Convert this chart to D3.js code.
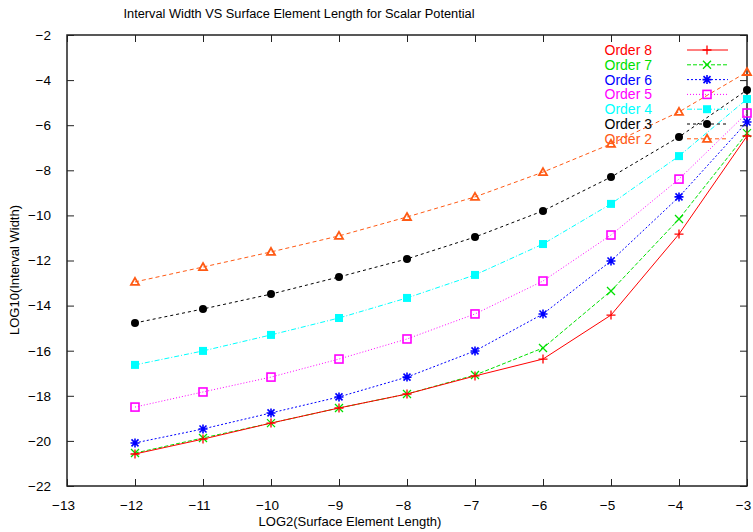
<!DOCTYPE html>
<html><head><meta charset="utf-8">
<script src="https://cdn.jsdelivr.net/npm/d3@7"></script>
<style>
body{margin:0;background:#fff;}
text{font-family:"Liberation Sans",Arial,sans-serif;}
</style></head>
<body><svg id="c" width="753" height="532"></svg>
<script>
const xValues = [-12,-11,-10,-9,-8,-7,-6,-5,-4,-3];
const seriesNames = ["Order 8","Order 7","Order 6","Order 5","Order 4","Order 3","Order 2"];
const order8 = [-20.58,-19.92,-19.21,-18.54,-17.92,-17.12,-16.37,-14.42,-10.83,-6.48];
const order7 = [-20.54,-19.87,-19.21,-18.54,-17.92,-17.08,-15.88,-13.35,-10.16,-6.35];
const order6 = [-20.09,-19.47,-18.76,-18.05,-17.17,-16.01,-14.37,-12.02,-9.18,-5.86];
const order5 = [-18.50,-17.83,-17.17,-16.37,-15.48,-14.37,-12.91,-10.87,-8.39,-5.46];
const order4 = [-16.63,-16.01,-15.30,-14.55,-13.66,-12.64,-11.27,-9.49,-7.37,-4.84];
const order3 = [-14.77,-14.15,-13.49,-12.73,-11.93,-10.96,-9.80,-8.30,-6.52,-4.44];
const order2 = [-12.95,-12.29,-11.62,-10.91,-10.07,-9.18,-8.08,-6.83,-5.41,-3.64];
const xTicks = [-13,-12,-11,-10,-9,-8,-7,-6,-5,-4,-3];
const yTicks = [-22,-20,-18,-16,-14,-12,-10,-8,-6,-4,-2];

const styles = [
  {color:"#ff0000", dash:null, marker:"plus"},
  {color:"#00e000", dash:"4,2", marker:"cross"},
  {color:"#0000ff", dash:"2,2", marker:"star"},
  {color:"#ff00ff", dash:"1,2", marker:"osquare"},
  {color:"#00ffff", dash:"5,2,1,2", marker:"fsquare"},
  {color:"#000000", dash:"3,3", marker:"circle"},
  {color:"#ff5a14", dash:"4,3", marker:"otri"}
];
const allSeries = [order8,order7,order6,order5,order4,order3,order2];

const svg = d3.select("#c");
const L=67, R=747, T=35, B=486;
const x = d3.scaleLinear().domain([-13,-3]).range([L,R]);
const y = d3.scaleLinear().domain([-22,-2]).range([B,T]);

// title
svg.append("text").attr("x",299).attr("y",18).attr("text-anchor","middle")
  .attr("font-size",12.5).attr("textLength",351).attr("lengthAdjust","spacingAndGlyphs")
  .text("Interval Width VS Surface Element Length for Scalar Potential");

// axes with inward ticks (bottom/top/left/right)
const tickLen = 7;
const g = svg.append("g");
g.append("g").attr("transform",`translate(0,${B})`)
  .call(d3.axisBottom(x).tickValues(xTicks).tickSizeInner(-tickLen).tickSizeOuter(0).tickPadding(10).tickFormat(d3.format("d")))
  .call(a=>{a.select(".domain").remove(); a.selectAll("text").attr("dy","1.0em").attr("dx",-4).attr("font-size",13.5).attr("font-family","Liberation Sans, Arial, sans-serif");});
g.append("g").attr("transform",`translate(0,${T})`)
  .call(d3.axisTop(x).tickValues(xTicks).tickSizeInner(-tickLen).tickSizeOuter(0).tickFormat(""))
  .call(a=>a.select(".domain").remove());
g.append("g").attr("transform",`translate(${L},0)`)
  .call(d3.axisLeft(y).tickValues(yTicks).tickSizeInner(-tickLen).tickSizeOuter(0).tickPadding(16).tickFormat(d3.format("d")))
  .call(a=>{a.select(".domain").remove(); a.selectAll("text").attr("font-size",13.5).attr("font-family","Liberation Sans, Arial, sans-serif");});
g.append("g").attr("transform",`translate(${R},0)`)
  .call(d3.axisRight(y).tickValues(yTicks).tickSizeInner(-tickLen).tickSizeOuter(0).tickFormat(""))
  .call(a=>a.select(".domain").remove());
g.selectAll(".tick line").attr("stroke","#222").attr("stroke-width",1);
g.selectAll(".tick text").attr("fill","#000");

svg.append("rect").attr("x",L).attr("y",T).attr("width",R-L).attr("height",B-T)
  .attr("fill","none").attr("stroke","#222").attr("stroke-width",1.5);

// axis labels
svg.append("text").attr("x",350).attr("y",526).attr("text-anchor","middle").attr("font-size",13)
  .text("LOG2(Surface Element Length)");
svg.append("text").attr("transform","translate(19,270) rotate(-90)").attr("text-anchor","middle").attr("font-size",13)
  .text("LOG10(Interval Width)");

function drawMarker(sel, type, color){
  const s = 4.5;
  if(type==="plus"){
    sel.append("path").attr("d",`M${-s},0H${s}M0,${-s}V${s}`).attr("stroke",color).attr("stroke-width",1.3).attr("fill","none");
  } else if(type==="cross"){
    const c=4;
    sel.append("path").attr("d",`M${-c},${-c}L${c},${c}M${-c},${c}L${c},${-c}`).attr("stroke",color).attr("stroke-width",1.3).attr("fill","none");
  } else if(type==="star"){
    const c=3.5;
    sel.append("path").attr("d",`M${-s},0H${s}M0,${-s}V${s}M${-c},${-c}L${c},${c}M${-c},${c}L${c},${-c}`).attr("stroke",color).attr("stroke-width",1.6).attr("fill","none");
  } else if(type==="osquare"){
    sel.append("rect").attr("x",-4).attr("y",-4).attr("width",8).attr("height",8).attr("fill","none").attr("stroke",color).attr("stroke-width",1.6);
  } else if(type==="fsquare"){
    sel.append("rect").attr("x",-4).attr("y",-4).attr("width",8).attr("height",8).attr("fill",color);
  } else if(type==="circle"){
    sel.append("circle").attr("r",4).attr("fill",color);
  } else if(type==="otri"){
    sel.append("path").attr("d","M0,-4L4,3L-4,3Z").attr("fill","none").attr("stroke",color).attr("stroke-width",1.8);
  }
}

const line = d3.line().x(d=>x(d[0])).y(d=>y(d[1]));
// draw in reverse so Order 8 ends up on top
for(let i=allSeries.length-1;i>=0;i--){
  const st = styles[i];
  const pts = xValues.map((xv,j)=>[xv, allSeries[i][j]]);
  const sg = svg.append("g");
  sg.append("path").datum(pts).attr("d",line).attr("fill","none").attr("stroke",st.color)
    .attr("stroke-width",1).attr("stroke-dasharray",st.dash);
  sg.selectAll("g.m").data(pts).join("g").attr("class","m")
    .attr("transform",d=>`translate(${x(d[0])},${y(d[1])})`)
    .each(function(){drawMarker(d3.select(this), st.marker, st.color);});
}

// legend
const lg = svg.append("g");
seriesNames.forEach((name,i)=>{
  const st = styles[i];
  const yy = 50 + i*14.8;
  lg.append("text").attr("x",652).attr("y",yy).attr("dy","0.35em").attr("text-anchor","end")
    .attr("font-size",14).attr("fill",st.color).text(name);
  lg.append("line").attr("x1",687).attr("x2",728).attr("y1",yy).attr("y2",yy)
    .attr("stroke",st.color).attr("stroke-width",1).attr("stroke-dasharray",st.dash);
  const m = lg.append("g").attr("transform",`translate(707,${yy})`);
  drawMarker(m, st.marker, st.color);
});
</script></body></html>
